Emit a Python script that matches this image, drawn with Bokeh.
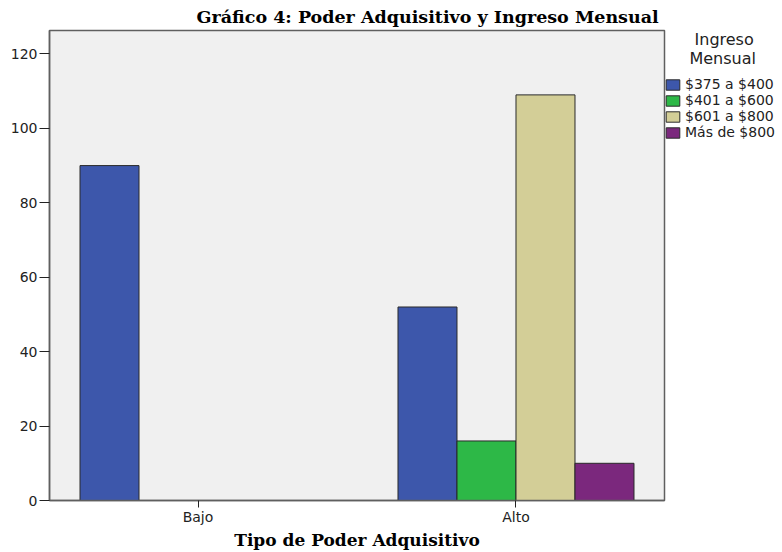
import numpy as np
from bokeh.plotting import figure
from bokeh.models import (ColumnDataSource, Range1d, FixedTicker, Legend, LegendItem, Title)
from bokeh.transform import dodge
from bokeh.embed import file_html
from bokeh.resources import INLINE

# ---- data ----
tipos = ["Bajo", "Alto"]
series = ["$375 a $400", "$401 a $600", "$601 a $800", "Más de $800"]
s375_400 = [90, 52]
s401_600 = [0, 16]
s601_800 = [0, 109]
s800_mas = [0, 10]
colors = ["#3d57ab", "#2db847", "#d3ce97", "#7b287d"]
y_ticks = [0, 20, 40, 60, 80, 100, 120]
legend_title_lines = ["Ingreso", "Mensual"]

NB = "\u00a0"
# no-break spaces only centre the two title lines visually
legend_title = NB * 6 + legend_title_lines[0] + "\n" + NB * 5 + legend_title_lines[1]

xi = list(range(len(tipos)))
src = ColumnDataSource(dict(xi=xi, s0=s375_400, s1=s401_600, s2=s601_800, s3=s800_mas))

bw = 59 / 318.0

p = figure(width=782, height=552, output_backend="svg", toolbar_location=None,
           x_range=Range1d(-0.467, 1.467), y_range=Range1d(0, 126.3),
           frame_width=615, frame_height=470,
           min_border_left=49, min_border_top=30, min_border_bottom=52, min_border_right=0)
p.background_fill_color = "#f0f0f0"
p.border_fill_color = "white"
p.outline_line_color = "#5f5f5f"
p.outline_line_width = 1.5
p.xgrid.visible = False
p.ygrid.visible = False

renderers = []
for k, col in enumerate(["s0", "s1", "s2", "s3"]):
    r = p.vbar(x=dodge("xi", (k - 1.5) * bw, range=p.x_range), top=col, width=bw, bottom=0,
               source=src, fill_color=colors[k], line_color="#2a2a2a", line_width=1)
    renderers.append(r)

p.title = Title(text="Gráfico 4: Poder Adquisitivo y Ingreso Mensual", align="left",
                offset=147, text_font="DejaVu Serif", text_font_style="bold",
                text_font_size="17.5px", text_color="black", standoff=7)

# y axis
ya = p.yaxis[0]
ya.ticker = FixedTicker(ticks=y_ticks)
ya.minor_tick_line_color = None
ya.major_tick_out = 10
ya.major_tick_in = 0
ya.major_tick_line_color = "#222222"
ya.axis_line_color = "#5f5f5f"
ya.axis_line_width = 1.5
ya.major_label_text_font = "DejaVu Sans"
ya.major_label_text_font_size = "14px"
ya.major_label_text_color = "#222222"
ya.major_label_standoff = 2

# x axis
xa = p.xaxis[0]
xa.ticker = FixedTicker(ticks=xi)
xa.major_label_overrides = {i: t for i, t in zip(xi, tipos)}
xa.minor_tick_line_color = None
xa.major_tick_out = 7
xa.major_tick_in = 0
xa.major_tick_line_color = "#222222"
xa.axis_line_color = "#5f5f5f"
xa.axis_line_width = 1.5
xa.major_label_text_font = "DejaVu Sans"
xa.major_label_text_font_size = "14px"
xa.major_label_text_color = "#222222"
xa.major_label_standoff = 1
xa.axis_label = "Tipo de Poder Adquisitivo"
xa.axis_label_text_font = "DejaVu Serif"
xa.axis_label_text_font_style = "bold"
xa.axis_label_text_font_size = "17px"
xa.axis_label_text_color = "black"
xa.axis_label_standoff = 2

legend = Legend(items=[LegendItem(label=s, renderers=[r]) for s, r in zip(series, renderers)],
                location="top_left", title=legend_title)
legend.title_text_font = "DejaVu Sans"
legend.title_text_font_size = "16px"
legend.title_text_font_style = "normal"
legend.title_text_color = "#222222"
legend.title_text_line_height = 1.1
legend.title_standoff = 8
legend.label_text_font = "DejaVu Sans"
legend.label_text_font_size = "14px"
legend.label_text_color = "#222222"
legend.label_height = 15
legend.glyph_height = 13
legend.glyph_width = 17
legend.label_standoff = 4
legend.spacing = 0
legend.padding = 4
legend.margin = 0
legend.border_line_color = None
legend.background_fill_alpha = 0
p.add_layout(legend, "right")

open("out.html", "w").write(file_html(p, INLINE))
